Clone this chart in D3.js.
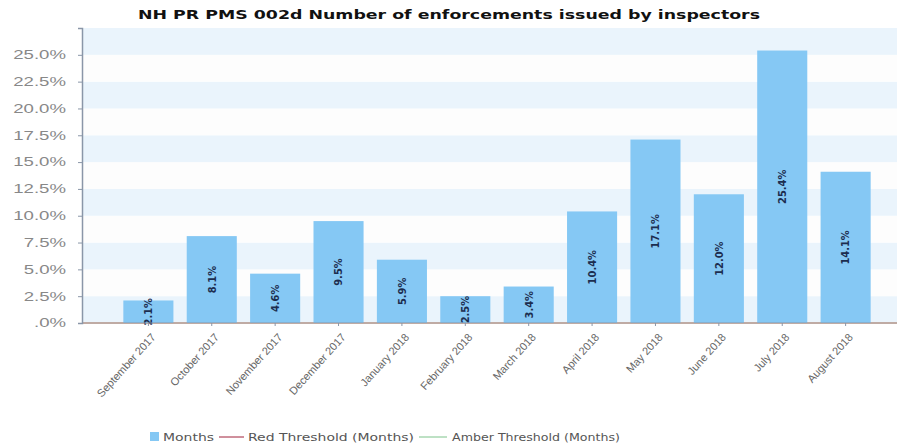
<!DOCTYPE html>
<html>
<head>
<meta charset="utf-8">
<script src="https://cdn.jsdelivr.net/npm/d3@7"></script>
<style>
  body { margin: 0; background: #fff; }
  svg { font-family: Verdana, "DejaVu Sans", sans-serif; }
</style>
</head>
<body>
<div id="chart"></div>
<script>
// data
var months = ['September 2017', 'October 2017', 'November 2017', 'December 2017',
	'January 2018', 'February 2018', 'March 2018', 'April 2018',
	'May 2018', 'June 2018', 'July 2018', 'August 2018'];
var values = [2.1, 8.1, 4.6, 9.5, 5.9, 2.5, 3.4, 10.4, 17.1, 12.0, 25.4, 14.1];
var redThreshold = [0, 0, 0, 0, 0, 0, 0, 0, 0, 0, 0, 0];
var amberThreshold = [0, 0, 0, 0, 0, 0, 0, 0, 0, 0, 0, 0];
var yTicks = [0, 2.5, 5, 7.5, 10, 12.5, 15, 17.5, 20, 22.5, 25];
var legendItems = ['Months', 'Red Threshold (Months)', 'Amber Threshold (Months)'];

var full_width = 897, full_height = 446;
var plot = {left: 82, right: 897, top: 28, bottom: 323};

var svg = d3.select('#chart').append('svg')
	.attr('width', full_width)
	.attr('height', full_height);

var x = d3.scaleBand()
	.domain(months)
	.range([117, 877])
	.paddingInner(0.21)
	.paddingOuter(0.1);

var y = d3.scaleLinear()
	.domain([0, 27.5])
	.range([plot.bottom, plot.top]);

var fmtTick = function(d) {
	var s = d3.format('.1f')(d) + '%';
	return s.replace(/^0\./, '.');
};

// alternating bands
var bands = d3.range(0, 27.5, 2.5);
svg.append('g').selectAll('rect')
	.data(bands)
  .enter().append('rect')
	.attr('x', plot.left)
	.attr('width', plot.right - plot.left)
	.attr('y', function(d) { return y(d + 2.5); })
	.attr('height', function(d) { return y(d) - y(d + 2.5); })
	.attr('fill', function(d, i) { return i % 2 === 0 ? '#eaf4fc' : '#fdfdfd'; });

// title
svg.append('text')
	.attr('x', 138)
	.attr('y', 19)
	.attr('textLength', 622)
	.attr('lengthAdjust', 'spacingAndGlyphs')
	.style('font-size', '13px')
	.style('font-weight', 'bold')
	.attr('fill', '#111')
	.text('NH PR PMS 002d Number of enforcements issued by inspectors');

// threshold lines, sitting on the zero line
var line = d3.line()
	.x(function(d, i) { return i === 0 ? plot.left : (i === months.length - 1 ? plot.right : x(months[i]) + x.bandwidth() / 2); })
	.y(function(d) { return y(d); });
svg.append('path')
	.datum(amberThreshold)
	.attr('d', line)
	.attr('fill', 'none')
	.attr('stroke', '#f6c9a8')
	.attr('stroke-width', 2);
svg.append('path')
	.datum(redThreshold)
	.attr('d', line)
	.attr('fill', 'none')
	.attr('stroke', '#f2b89a')
	.attr('stroke-width', 1);

// bars
var bar = svg.append('g').selectAll('.bar')
	.data(values)
  .enter().append('g')
	.attr('class', 'bar');

bar.append('rect')
	.attr('x', function(d, i) { return x(months[i]); })
	.attr('y', function(d) { return y(d); })
	.attr('width', x.bandwidth())
	.attr('height', function(d) { return y(0) - y(d); })
	.attr('fill', '#85c8f4');

bar.append('text')
	.attr('transform', function(d, i) {
		var cx = x(months[i]) + x.bandwidth() / 2;
		var cy = (y(d) + y(0)) / 2;
		return 'translate(' + cx + ',' + cy + ') rotate(-90)';
	})
	.attr('text-anchor', 'middle')
	.attr('dy', '0.35em')
	.style('font-family', '"Liberation Sans Narrow", "DejaVu Sans Condensed", sans-serif')
	.style('font-size', '11px')
	.style('font-weight', 'bold')
	.attr('fill', '#1c2d4f')
	.text(function(d) { return d3.format('.1f')(d) + '%'; });

// y axis
var yAxis = svg.append('g')
	.attr('transform', 'translate(' + plot.left + ',0)')
	.call(d3.axisLeft(y).tickValues(yTicks).tickFormat(fmtTick).tickSize(4));
yAxis.select('.domain').attr('stroke', '#8a96a8').attr('stroke-width', 1.5);
yAxis.selectAll('.tick line').attr('stroke', '#8a96a8');
yAxis.selectAll('.tick text')
	.attr('x', 0)
	.attr('transform', 'translate(-16,0) scale(1.55,1)')
	.attr('fill', '#888')
	.style('font-size', '12px');

// x axis
var xAxis = svg.append('g')
	.attr('transform', 'translate(0,' + plot.bottom + ')')
	.call(d3.axisBottom(x).tickSize(3).tickSizeOuter(0));
xAxis.select('.domain')
	.attr('d', 'M' + plot.left + ',0H' + plot.right)
	.attr('stroke', '#8a96a8')
	.attr('stroke-width', 1.2);
xAxis.selectAll('.tick line').attr('stroke', '#8a96a8');
xAxis.selectAll('.tick text')
	.attr('fill', '#666')
	.style('font-size', '11px')
	.attr('text-anchor', 'end')
	.attr('transform', 'translate(5,12) rotate(-48)')
	.attr('dy', '0.35em')
	.attr('y', 0)
	.attr('x', 0);

// legend
var legend = svg.append('g').attr('transform', 'translate(0,437)');
legend.append('rect')
	.attr('x', 150).attr('y', -5)
	.attr('width', 9).attr('height', 9)
	.attr('fill', '#85c8f4');
legend.append('line')
	.attr('x1', 219).attr('x2', 244).attr('y1', 0).attr('y2', 0)
	.attr('stroke', '#a0203a');
legend.append('line')
	.attr('x1', 419).attr('x2', 447).attr('y1', 0).attr('y2', 0)
	.attr('stroke', '#7cc38a');
var legendX = [163, 248, 452], legendW = [51, 166, 168];
legend.selectAll('.leg')
	.data(legendItems)
  .enter().append('text')
	.attr('class', 'leg')
	.attr('x', function(d, i) { return legendX[i]; })
	.attr('y', 4)
	.attr('textLength', function(d, i) { return legendW[i]; })
	.attr('lengthAdjust', 'spacingAndGlyphs')
	.style('font-size', '11px')
	.attr('fill', '#555')
	.text(function(d) { return d; });
</script>
</body>
</html>
